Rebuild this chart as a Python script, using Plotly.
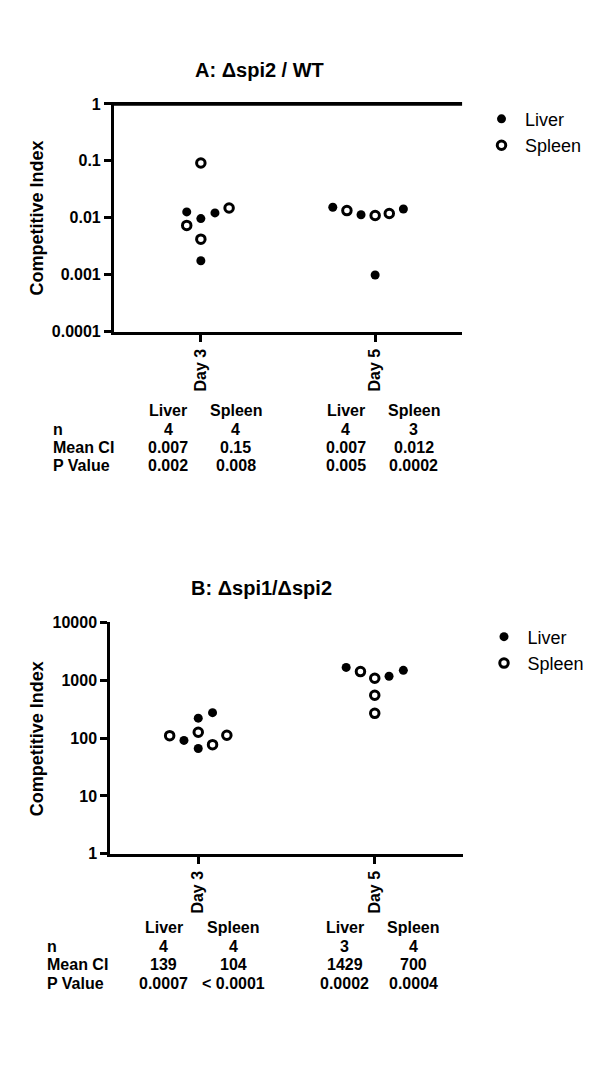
import plotly.graph_objects as go

W, H = 600, 1091
FONT = "Arial, Liberation Sans, sans-serif"

# ---------------- data ----------------
days = ["Day 3", "Day 5"]

# Panel A: Δspi2 / WT (Competitive Index)
a_d3_liver = [0.0127, 0.0097, 0.0122, 0.00176]
a_d3_liver_slot = [-1, 0, 1, 0]
a_d3_spleen = [0.0918, 0.00736, 0.00422, 0.0149]
a_d3_spleen_slot = [0, -1, 0, 2]
a_d5_liver = [0.0153, 0.0113, 0.0143, 0.00099]
a_d5_liver_slot = [-3, -1, 2, 0]
a_d5_spleen = [0.0134, 0.0110, 0.0119]
a_d5_spleen_slot = [-2, 0, 1]

# Panel B: Δspi1/Δspi2
b_d3_liver = [91, 221, 66, 275]
b_d3_liver_slot = [-1, 0, 0, 1]
b_d3_spleen = [110, 126, 77, 112]
b_d3_spleen_slot = [-2, 0, 1, 2]
b_d5_liver = [1667, 1172, 1483]
b_d5_liver_slot = [-2, 1, 2]
b_d5_spleen = [1409, 1084, 550, 268]
b_d5_spleen_slot = [-1, 0, 0, 0]

a_ticks = [0.0001, 0.001, 0.01, 0.1, 1]
a_ticktext = ["0.0001", "0.001", "0.01", "0.1", "1"]
b_ticks = [1, 10, 100, 1000, 10000]
b_ticktext = ["1", "10", "100", "1000", "10000"]

row_labels = ["n", "Mean CI", "P Value"]
col_headers = ["Liver", "Spleen", "Liver", "Spleen"]
a_n = ["4", "4", "4", "3"]
a_mean = ["0.007", "0.15", "0.007", "0.012"]
a_p = ["0.002", "0.008", "0.005", "0.0002"]
b_n = ["4", "4", "3", "4"]
b_mean = ["139", "104", "1429", "700"]
b_p = ["0.0007", "< 0.0001", "0.0002", "0.0004"]

STEP = 0.081  # horizontal spacing between adjacent points (category units)


def xs(day_idx, slots):
    return [day_idx + s * STEP for s in slots]


fig = go.Figure()

filled = dict(color="black", size=9, symbol="circle")
openm = dict(color="black", size=8.5, symbol="circle-open", line=dict(width=3, color="black"))


def add_panel(xa, ya, legend, d3l, d3ls, d5l, d5ls, d3s, d3ss, d5s, d5ss):
    fig.add_trace(go.Scatter(
        x=xs(0, d3ls) + xs(1, d5ls),
        y=d3l + d5l, mode="markers", marker=filled, name="Liver",
        xaxis=xa, yaxis=ya, legend=legend, cliponaxis=False))
    fig.add_trace(go.Scatter(
        x=xs(0, d3ss) + xs(1, d5ss),
        y=d3s + d5s, mode="markers", marker=openm, name="Spleen",
        xaxis=xa, yaxis=ya, legend=legend, cliponaxis=False))


add_panel("x", "y", "legend", a_d3_liver, a_d3_liver_slot, a_d5_liver, a_d5_liver_slot,
          a_d3_spleen, a_d3_spleen_slot, a_d5_spleen, a_d5_spleen_slot)
add_panel("x2", "y2", "legend2", b_d3_liver, b_d3_liver_slot, b_d5_liver, b_d5_liver_slot,
          b_d3_spleen, b_d3_spleen_slot, b_d5_spleen, b_d5_spleen_slot)

# reference line at CI = 1 (panel A)
fig.add_shape(type="line", xref="x", yref="y", x0=-0.5, x1=1.5, y0=1, y1=1,
              line=dict(color="black", width=3.7))


def px_x(v):
    return v / W


def px_y(v):
    return 1 - v / H


axis_common = dict(showline=True, linecolor="black", linewidth=2.5, ticks="outside",
                   tickcolor="black", tickwidth=2.5, showgrid=False, zeroline=False,
                   tickfont=dict(family=FONT, size=16, color="black", weight="bold"))

xaxis_common = dict(axis_common, range=[-0.5, 1.5], tickvals=[0, 1], ticktext=days,
                    tickangle=-90, ticklen=8)

legend_common = dict(xanchor="left", yanchor="top", itemwidth=37,
                     font=dict(family=FONT, size=18, color="black"),
                     bgcolor="rgba(0,0,0,0)")

fig.update_layout(
    width=W, height=H, margin=dict(l=0, r=0, t=0, b=0),
    paper_bgcolor="white", plot_bgcolor="white",
    font=dict(family=FONT, color="black"),
    xaxis=dict(xaxis_common, domain=[px_x(105.7), px_x(454.3)], anchor="y"),
    yaxis=dict(axis_common, type="log", range=[-4, 0.035], tickvals=a_ticks,
               ticktext=a_ticktext, ticklen=7,
               domain=[px_y(320.7), px_y(87.3)], anchor="x"),
    xaxis2=dict(xaxis_common, domain=[px_x(102), px_x(455)], anchor="y2"),
    yaxis2=dict(axis_common, type="log", range=[0, 4], tickvals=b_ticks,
                ticktext=b_ticktext, ticklen=7,
                domain=[px_y(851), px_y(616)], anchor="x2"),
    legend=dict(legend_common, x=px_x(470), y=px_y(86)),
    legend2=dict(legend_common, x=px_x(472.5), y=px_y(612)),
    showlegend=True,
)

ann = []
# titles
ann.append(dict(text="A: Δspi2 / WT", x=px_x(251), y=px_y(55)))
ann.append(dict(text="B: Δspi1/Δspi2", x=px_x(253.5), y=px_y(580.7)))
for a in ann:
    a.update(xref="paper", yref="paper", showarrow=False, xanchor="center", yanchor="middle",
             font=dict(family=FONT, size=20, color="black", weight="bold"))

# y axis titles
for yc in (205, 734):
    ann.append(dict(text="Competitive Index", x=px_x(28.7), y=px_y(yc), xref="paper",
                    yref="paper", showarrow=False, textangle=-90, xanchor="center",
                    yanchor="middle",
                    font=dict(family=FONT, size=18, color="black", weight="bold")))

tf = dict(family=FONT, size=16, color="black", weight="bold")


def add_table(label_x, col_x, row_y, n, mean, p):
    for cx, h in zip(col_x, col_headers):
        ann.append(dict(text=h, x=px_x(cx), y=px_y(row_y[0]), xanchor="center"))
    for lab, ry in zip(row_labels, row_y[1:]):
        ann.append(dict(text=lab, x=px_x(label_x), y=px_y(ry), xanchor="left"))
    for vals, ry in zip([n, mean, p], row_y[1:]):
        for cx, v in zip(col_x, vals):
            ann.append(dict(text=v, x=px_x(cx), y=px_y(ry), xanchor="center"))


add_table(42.7, [160, 227.7, 337.7, 405.7], [401, 420, 438.3, 456.7], a_n, a_mean, a_p)
add_table(36.7, [155.7, 225, 336.7, 405], [926, 945.3, 964, 982.7], b_n, b_mean, b_p)
for a in ann:
    a.setdefault("xref", "paper")
    a.setdefault("yref", "paper")
    a.setdefault("showarrow", False)
    a.setdefault("yanchor", "middle")
    a.setdefault("font", tf)

fig.update_layout(annotations=ann)
fig.write_html("out.html")
